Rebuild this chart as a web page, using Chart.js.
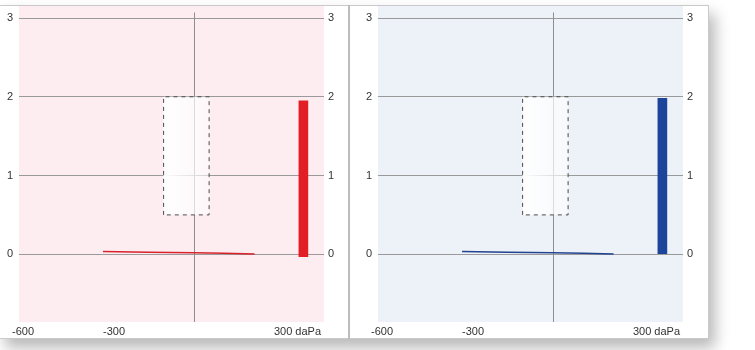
<!DOCTYPE html>
<html>
<head>
<meta charset="utf-8">
<script src="https://cdn.jsdelivr.net/npm/chart.js@4.4.1/dist/chart.umd.min.js"></script>
<style>
  html, body { margin: 0; padding: 0; background: #ffffff; width: 755px; height: 350px; overflow: hidden; }
  #card { position: absolute; left: -1px; top: 5px; width: 708px; height: 332px; border: 1px solid #c9c9c9; background: #fff;
          box-shadow: 6px 9px 14px rgba(0,0,0,0.28); }
  #sep { position: absolute; left: 348px; top: 5px; width: 2px; height: 334px; background: #bcbcbc; }
  .wrap { position: absolute; top: 0; width: 349px; height: 340px; }
  canvas { display: block; }
</style>
</head>
<body>
<div id="card"></div>
<div id="sep"></div>
<div class="wrap" style="left:0px"><canvas id="c1" width="349" height="340"></canvas></div>
<div class="wrap" style="left:359px"><canvas id="c2" width="349" height="340"></canvas></div>
<script>
// ---- data ----
const pressure = [-300, 0, 200];                 // daPa
const complianceRight = [0.035, 0.018, 0.005];   // red panel
const complianceLeft = [0.035, 0.018, 0.005];    // blue panel
const normalBoxX = [-100, 50];                   // daPa
const normalBoxY = [0.5, 2.0];
const volumeX = 361;                             // position of volume bar
const volumeRight = [-0.03, 1.95];
const volumeLeft = [0, 1.98];
const yTicks = [0, 1, 2, 3];
const xTickValues = [-600, -300];
const xTickLabels = ['-600', '-300'];
const xUnitLabel = '300 daPa';
const xRange = [-577, 429];
const yRange = [-0.86, 3.14];
const verticalTop = 3.07;

const FONT = 'Liberation Sans, Arial, sans-serif';

function makeChart(id, color, lineColor, bg, compliance, volume) {
  const boxPts = [
    {x: normalBoxX[0], y: normalBoxY[0]}, {x: normalBoxX[0], y: normalBoxY[1]},
    {x: normalBoxX[1], y: normalBoxY[1]}, {x: normalBoxX[1], y: normalBoxY[0]},
    {x: normalBoxX[0], y: normalBoxY[0]}
  ];
  const tymp = pressure.map((p, i) => ({x: p, y: compliance[i]}));
  const bgPlugin = {
    id: 'bg',
    beforeDraw(chart) {
      const {ctx, chartArea: a} = chart;
      ctx.save();
      ctx.fillStyle = bg;
      ctx.fillRect(a.left, a.top - 1, a.right - a.left, a.bottom - a.top + 1);
      ctx.restore();
    },
    beforeDatasetsDraw(chart) {
      const {ctx, chartArea: a, scales} = chart;
      const x0 = Math.round(scales.x.getPixelForValue(0)) + 0.5;
      ctx.save();
      ctx.strokeStyle = '#8e8e8e';
      ctx.lineWidth = 1;
      ctx.beginPath();
      ctx.moveTo(x0, scales.y.getPixelForValue(verticalTop));
      ctx.lineTo(x0, a.bottom);
      ctx.stroke();
      ctx.restore();
    },
    afterDraw(chart) {
      const {ctx, chartArea: a, scales} = chart;
      ctx.save();
      ctx.font = '11px ' + FONT;
      ctx.fillStyle = '#333';
      ctx.textBaseline = 'middle';
      const ty = a.bottom + 10;
      ctx.textAlign = 'left';
      xTickValues.forEach((v, i) => ctx.fillText(xTickLabels[i], scales.x.getPixelForValue(v), ty));
      ctx.textAlign = 'right';
      ctx.fillText(xUnitLabel, a.right - 3, ty);
      ctx.restore();
    }
  };
  const fixAxis = (w) => (s) => { s.width = w; s.paddingTop = 0; s.paddingBottom = 0; };
  const setTicks = (s) => { s.ticks = yTicks.map(v => ({value: v})); };
  return new Chart(document.getElementById(id), {
    data: {
      datasets: [
        {
          type: 'line', data: boxPts, borderColor: '#4a4a4a', borderWidth: 1, borderDash: [4, 4],
          fill: 'shape', pointRadius: 0, tension: 0, order: 3,
          backgroundColor: (ctx) => {
            const a = ctx.chart.chartArea;
            if (!a) return 'rgba(255,255,255,0.8)';
            const sx = ctx.chart.scales.x;
            const g = ctx.chart.ctx.createLinearGradient(sx.getPixelForValue(normalBoxX[0]), 0, sx.getPixelForValue(normalBoxX[1]), 0);
            g.addColorStop(0, 'rgba(255,255,255,0.97)');
            g.addColorStop(1, 'rgba(255,255,255,0.55)');
            return g;
          }
        },
        {
          type: 'line', data: tymp, borderColor: lineColor, borderWidth: 1.5, pointRadius: 0,
          tension: 0.3, fill: false, order: 2
        },
        {
          type: 'bar', data: [{x: volumeX, y: volume}], backgroundColor: color, borderWidth: 0,
          barThickness: 9, order: 1
        }
      ]
    },
    options: {
      responsive: false, animation: false, events: [],
      layout: {padding: {top: 7, bottom: 18, left: 0, right: 0}},
      plugins: {legend: {display: false}, tooltip: {enabled: false}},
      scales: {
        x: {type: 'linear', min: xRange[0], max: xRange[1], display: false, offset: false, grid: {offset: false}},
        y: {
          type: 'linear', position: 'left', min: yRange[0], max: yRange[1],
          afterBuildTicks: setTicks, afterFit: fixAxis(19),
          border: {display: false},
          grid: {color: '#9a9a9a', lineWidth: 1, drawTicks: false},
          ticks: {padding: 6, color: '#333', font: {family: FONT, size: 11}}
        },
        y2: {
          type: 'linear', position: 'right', min: yRange[0], max: yRange[1],
          afterBuildTicks: setTicks, afterFit: fixAxis(25),
          border: {display: false},
          grid: {display: false, drawTicks: false},
          ticks: {padding: 4, color: '#333', font: {family: FONT, size: 11}}
        }
      }
    },
    plugins: [bgPlugin]
  });
}

makeChart('c1', '#e31f26', '#d8232b', '#fdedf1', complianceRight, volumeRight);
makeChart('c2', '#1c449a', '#21448f', '#edf1f8', complianceLeft, volumeLeft);
</script>
</body>
</html>
